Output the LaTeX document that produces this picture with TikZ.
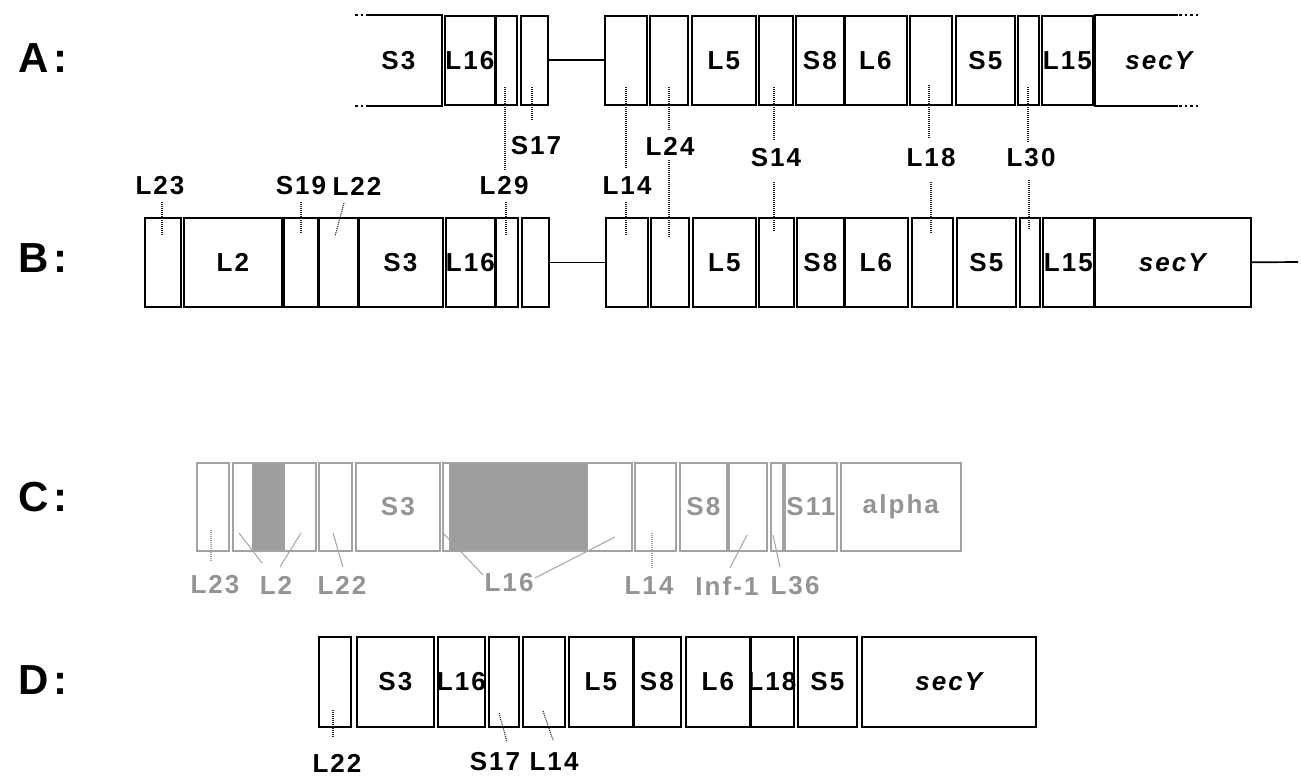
\documentclass[tikz,border=0pt]{standalone}
\usepackage{fontspec}
\setmainfont{Liberation Sans}
\newfontfamily\labfont{Liberation Sans}[LetterSpace=8]
\newfontfamily\rowfont{Liberation Sans}[LetterSpace=12]
\usetikzlibrary{calc}
\definecolor{cline}{gray}{0.64}
\definecolor{cfill}{gray}{0.62}
\definecolor{ctext}{gray}{0.58}
\tikzset{
  box/.style={draw, line width=1.7pt, inner sep=0pt, anchor=north west,
    font=\labfont\bfseries\fontsize{26}{26}\selectfont},
  rowA/.style={minimum height=89pt},
  rowB/.style={minimum height=89pt},
  rowC/.style={minimum height=88pt, draw=cline, text=ctext},
  rowD/.style={minimum height=90pt},
  thickedge/.style={line width=3.2pt},
  joinline/.style={line width=1.7pt},
  enddots/.style={line width=1.7pt, dash pattern=on 2.5pt off 3pt},
  dl/.style={line width=1.1pt, dash pattern=on 1pt off 1pt, black!85},
  cl/.style={line width=1pt, cline},
  cdl/.style={line width=1.1pt, cline, dash pattern=on 1pt off 1pt},
  lbl/.style={inner sep=0pt, font=\labfont\bfseries\fontsize{26}{26}\selectfont},
  clbl/.style={lbl, text=ctext},
  rowlbl/.style={inner sep=0pt, anchor=west, font=\rowfont\bfseries\fontsize{42}{42}\selectfont},
}
\newcommand\bx[6]{\node[box,#1,minimum width={(#4)-(#3)}] (#2) at (#3,#5) {\makebox[0pt]{#6}};}
\begin{document}
\begin{tikzpicture}[x=1pt,y=-1pt]
\useasboundingbox (0,0) rectangle (1301,776);

% ---------- row letters
\node[rowlbl] (rA) at (18,58) {A:};
\node[rowlbl] (rB) at (18,258) {B:};
\node[rowlbl] (rC) at (18,497) {C:};
\node[rowlbl] (rD) at (18,680) {D:};

% ---------- row A
\bx{rowA,draw=none}{a-s3}{355}{440}{15}{S3}
\draw[joinline] (a-s3.north west) ++(12,0) -- (a-s3.north east) -- (a-s3.south east) -- ($(a-s3.south west)+(12,0)$);
\draw[enddots] (a-s3.north west) -- ++(12,0);
\draw[enddots] (a-s3.south west) -- ++(12,0);
\bx{rowA}{a-l16}{444}{494}{15}{L16}
\bx{rowA}{a-l29}{494}{516}{15}{}
\bx{rowA}{a-s17}{520}{547}{15}{}
\bx{rowA}{a-l14}{604}{646}{15}{}
\bx{rowA}{a-l24}{649}{687}{15}{}
\bx{rowA}{a-l5}{691}{755}{15}{L5}
\bx{rowA}{a-s14}{758}{792}{15}{}
\bx{rowA}{a-s8}{795}{843}{15}{S8}
\bx{rowA}{a-l6}{843}{906}{15}{L6}
\bx{rowA}{a-l18}{909}{951}{15}{}
\bx{rowA}{a-s5}{955}{1014}{15}{S5}
\bx{rowA}{a-l30}{1017}{1038}{15}{}
\bx{rowA}{a-l15}{1041}{1092}{15}{L15}
\bx{rowA,draw=none}{a-secy}{1095}{1221}{15}{\itshape secY}
\draw[joinline] ($(a-secy.north west)+(83,0)$) -- (a-secy.north west) -- (a-secy.south west) -- ++(83,0);
\draw[enddots] ($(a-secy.north west)+(84,0)$) -- ++(19,0);
\draw[enddots] ($(a-secy.south west)+(84,0)$) -- ++(19,0);
\draw[thickedge] (a-l16.north east) -- (a-l16.south east);
\draw[thickedge] (a-s8.north east) -- (a-s8.south east);
\draw[joinline] (a-s17.east) -- (a-l14.west);

% ---------- labels between A and B
\node[lbl] (tS17) at (536,146) {S17};
\node[lbl] (tL24) at (670,146) {L24};
\node[lbl] (tS14) at (776,158) {S14};
\node[lbl] (tL18) at (931,158) {L18};
\node[lbl] (tL30) at (1031,158) {L30};
\node[lbl] (tL23) at (160,186) {L23};
\node[lbl] (tS19) at (301,186) {S19};
\node[lbl] (tL22) at (357,186) {L22};
\node[lbl] (tL29) at (504,186) {L29};
\node[lbl] (tL14) at (627,186) {L14};

% ---------- row B
\bx{rowB}{b-l23}{144}{180}{217}{}
\bx{rowB}{b-l2}{183}{281}{217}{L2}
\bx{rowB}{b-s19}{283}{317}{217}{}
\bx{rowB}{b-l22}{317}{357}{217}{}
\bx{rowB}{b-s3}{357}{442}{217}{S3}
\bx{rowB}{b-l16}{445}{494}{217}{L16}
\bx{rowB}{b-l29}{494}{517}{217}{}
\bx{rowB}{b-s17}{521}{548}{217}{}
\bx{rowB}{b-l14}{605}{647}{217}{}
\bx{rowB}{b-l24}{650}{688}{217}{}
\bx{rowB}{b-l5}{692}{755}{217}{L5}
\bx{rowB}{b-s14}{758}{793}{217}{}
\bx{rowB}{b-s8}{796}{843}{217}{S8}
\bx{rowB}{b-l6}{843}{907}{217}{L6}
\bx{rowB}{b-l18}{911}{952}{217}{}
\bx{rowB}{b-s5}{956}{1015}{217}{S5}
\bx{rowB}{b-l30}{1019}{1039}{217}{}
\bx{rowB}{b-l15}{1042}{1093}{217}{L15}
\bx{rowB}{b-secy}{1093}{1250}{217}{\itshape secY}
\foreach \n in {b-s19,b-l22,b-l16,b-s8,b-l15}
  \draw[thickedge] (\n.north east) -- (\n.south east);
\draw[joinline] (b-s17.east) -- (b-l14.west);
\coordinate (btail) at (1298,262);
\draw[joinline] (b-secy.east) -- (btail);

% ---------- dotted connectors A / B
\coordinate (pS17a) at (532,87);
\coordinate (pL29a) at (505,87);
\coordinate (pL14a) at (626,87);
\coordinate (pL24a) at (669,87);
\coordinate (pS14a) at (774,87);
\coordinate (pL18a) at (929,85);
\coordinate (pL30a) at (1028,87);
\draw[dl, shorten >=17pt] (pS17a) -- (pS17a |- tS17.north);
\draw[dl, shorten >=7pt] (pL29a) -- (pL29a |- tL29.north);
\draw[dl, shorten >=9pt] (pL14a) -- (pL14a |- tL14.north);
\draw[dl, shorten >=7pt] (pL24a) -- (pL24a |- tL24.north);
\draw[dl, shorten >=9pt] (pS14a) -- (pS14a |- tS14.north);
\draw[dl, shorten >=11pt] (pL18a) -- (pL18a |- tL18.north);
\draw[dl, shorten >=7pt] (pL30a) -- (pL30a |- tL30.north);

\coordinate (pL23b) at (162,235);
\coordinate (pS19b) at (301,233);
\coordinate (pL22b) at (335,236);
\coordinate (pL29b) at (506,235);
\coordinate (pL14b) at (626,235);
\coordinate (pL24b) at (669,238);
\coordinate (pS14b) at (774,232);
\coordinate (pL18b) at (931,233);
\coordinate (pL30b) at (1029,230);
\draw[dl, shorten <=7pt] (pL23b |- tL23.south) -- (pL23b);
\draw[dl, shorten <=7pt] (pS19b |- tS19.south) -- (pS19b);
\draw[dl] (344,203) -- (pL22b);
\draw[dl, shorten <=7pt] (pL29b |- tL29.south) -- (pL29b);
\draw[dl, shorten <=7pt] (pL14b |- tL14.south) -- (pL14b);
\draw[dl, shorten <=5pt] (pL24b |- tL24.south) -- (pL24b);
\draw[dl, shorten <=15pt] (pS14b |- tS14.south) -- (pS14b);
\draw[dl, shorten <=15pt] (pL18b |- tL18.south) -- (pL18b);
\draw[dl, shorten <=13pt] (pL30b |- tL30.south) -- (pL30b);

% ---------- row C (grey)
\node[box, rowC, draw=cline, line width=0.8pt, fill=cfill, minimum width=32pt] (c-l2band) at (252,462) {};
\node[box, rowC, draw=cline, line width=0.8pt, fill=cfill, minimum width=138pt] (c-l16band) at (449,462) {};
\bx{rowC}{c-l23}{196}{228}{462}{}
\bx{rowC}{c-l2}{232}{315}{462}{}
\bx{rowC}{c-l22}{318}{351}{462}{}
\bx{rowC}{c-s3}{355}{439}{462}{S3}
\bx{rowC}{c-l16}{442}{631}{462}{}
\bx{rowC}{c-l14}{634}{675}{462}{}
\bx{rowC}{c-s8}{679}{726}{462}{S8}
\bx{rowC}{c-inf}{728}{766}{462}{}
\bx{rowC}{c-l36}{770}{782}{462}{}
\bx{rowC}{c-s11}{784}{836}{462}{S11}
\bx{rowC}{c-alpha}{840}{960}{462}{alpha}

\node[clbl] (uL23) at (215,585) {L23};
\node[clbl] (uL2) at (276,585) {L2};
\node[clbl] (uL22) at (342,585) {L22};
\node[clbl] (uL16) at (509,583) {L16};
\node[clbl] (uL14) at (649,586) {L14};
\node[clbl] (uInf) at (727,586) {Inf-1};
\node[clbl] (uL36) at (795,586) {L36};

\draw[cdl] (211,530) -- (211,562);
\draw[cl] (239,533) -- (262,563);
\draw[cl] (301,533) -- (280,567);
\draw[cl] (333,533) -- (343,567);
\draw[cl] (443,533) -- (483,575);
\draw[cl] (535,578) -- (615,537);
\draw[cdl] (652,533) -- (652,568);
\draw[cl] (747,535) -- (730,568);
\draw[cl] (773,535) -- (780,567);

% ---------- row D
\bx{rowD}{d-l22}{318}{350}{636}{}
\bx{rowD}{d-s3}{356}{433}{636}{S3}
\bx{rowD}{d-l16}{437}{484}{636}{L16}
\bx{rowD}{d-s17}{488}{518}{636}{}
\bx{rowD}{d-l14}{522}{564}{636}{}
\bx{rowD}{d-l5}{568}{632}{636}{L5}
\bx{rowD}{d-s8}{632}{680}{636}{S8}
\bx{rowD}{d-l6}{685}{749}{636}{L6}
\bx{rowD}{d-l18}{749}{793}{636}{L18}
\bx{rowD}{d-s5}{797}{856}{636}{S5}
\bx{rowD}{d-secy}{861}{1035}{636}{\itshape secY}
\draw[thickedge] (d-l5.north east) -- (d-l5.south east);
\draw[thickedge] (d-l6.north east) -- (d-l6.south east);

\node[lbl] (wL22) at (337,763) {L22};
\node[lbl] (wS17) at (495,762) {S17};
\node[lbl] (wL14) at (554,762) {L14};
\draw[dl] (333,710) -- (333,738);
\draw[dl] (499,713) -- (507,742);
\draw[dl] (543,711) -- (553,740);
\end{tikzpicture}
\end{document}
